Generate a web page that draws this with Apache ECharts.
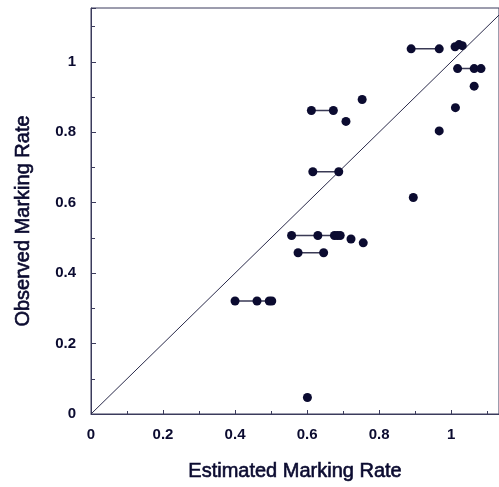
<!DOCTYPE html>
<html>
<head>
<meta charset="utf-8">
<script src="https://cdn.jsdelivr.net/npm/echarts@6/dist/echarts.min.js"></script>
<style>html,body{margin:0;padding:0;background:#fff}#c{width:499px;height:487px}</style>
</head>
<body>
<div id="c"></div>
<script>
// Each group: points at the same observed rate, joined by a horizontal segment
var estimated = [
  [0.889, 0.967],
  [1.011, 1.022, 1.031],
  [1.018, 1.064, 1.083],
  [1.064],
  [1.012],
  [0.967],
  [0.895],
  [0.612, 0.673],
  [0.753],
  [0.708],
  [0.616, 0.688],
  [0.557, 0.630, 0.676, 0.684, 0.692],
  [0.722],
  [0.756],
  [0.575, 0.646],
  [0.400, 0.461, 0.495, 0.502],
  [0.601]
];
var observed = [
  [1.037, 1.037],
  [1.043, 1.049, 1.046],
  [0.981, 0.981, 0.981],
  [0.931],
  [0.870],
  [0.804],
  [0.615],
  [0.862, 0.862],
  [0.893],
  [0.831],
  [0.688, 0.688],
  [0.507, 0.507, 0.507, 0.507, 0.507],
  [0.497],
  [0.486],
  [0.458, 0.458],
  [0.321, 0.321, 0.321, 0.321],
  [0.047]
];
var xTicks = [0, 0.2, 0.4, 0.6, 0.8, 1];
var yTicks = [0, 0.2, 0.4, 0.6, 0.8, 1];
var identityLine = [[0, 0], [1.3, 1.3]];

var ink = '#0b0b30';
var axisCol = '#3b3b5c';
var font = 'Liberation Sans, Arial, Helvetica, sans-serif';

var series = [{
  type: 'line',
  data: identityLine,
  symbol: 'none',
  clip: true,
  silent: true,
  lineStyle: { color: '#2a2a4a', width: 1 },
  z: 1
}];
estimated.forEach(function (xs, i) {
  series.push({
    type: 'line',
    data: xs.map(function (x, j) { return [x, observed[i][j]]; }),
    symbol: 'circle',
    symbolSize: 9,
    showSymbol: true,
    itemStyle: { color: ink },
    lineStyle: { color: '#3a3a55', width: 1.5 },
    z: 3
  });
});

var chart = echarts.init(document.getElementById('c'), null, { renderer: 'canvas' });
chart.setOption({
  animation: false,
  backgroundColor: '#fff',
  grid: { left: 91, right: -3, top: 8, bottom: 73, show: true, borderColor: axisCol, borderWidth: 1 },
  xAxis: {
    type: 'value', min: 0, max: 1.133, interval: 0.2,
    name: 'Estimated Marking Rate', nameLocation: 'middle', nameGap: 47,
    nameTextStyle: { fontFamily: font, fontSize: 20, color: ink, textBorderColor: ink, textBorderWidth: 0.6 },
    axisLine: { show: true, lineStyle: { color: axisCol, width: 1 } },
    axisTick: { show: true, inside: true, length: 4, lineStyle: { color: axisCol } },
    minorTick: { show: true, splitNumber: 2, length: 3, lineStyle: { color: axisCol } },
    splitLine: { show: false },
    axisLabel: {
      fontFamily: font, fontSize: 15, fontWeight: 'bold', color: ink, margin: 13,
      formatter: function (v) { var r = Math.round(v * 10) / 10; return xTicks.indexOf(r) >= 0 ? String(r) : ''; },
      showMaxLabel: false
    }
  },
  yAxis: {
    type: 'value', min: 0, max: 1.153, interval: 0.2,
    name: 'Observed Marking Rate', nameLocation: 'middle', nameGap: 58,
    nameTextStyle: { fontFamily: font, fontSize: 20, color: ink, textBorderColor: ink, textBorderWidth: 0.6, padding: [0, 20, 0, 0] },
    axisLine: { show: true, lineStyle: { color: axisCol, width: 1 } },
    axisTick: { show: true, inside: true, length: 5, lineStyle: { color: axisCol } },
    minorTick: { show: true, splitNumber: 2, length: 4, lineStyle: { color: axisCol } },
    splitLine: { show: false },
    axisLabel: {
      fontFamily: font, fontSize: 15, fontWeight: 'bold', color: ink, margin: 15,
      formatter: function (v) { var r = Math.round(v * 10) / 10; return yTicks.indexOf(r) >= 0 ? String(r) : ''; },
      showMaxLabel: false
    }
  },
  series: series
});
</script>
</body>
</html>
